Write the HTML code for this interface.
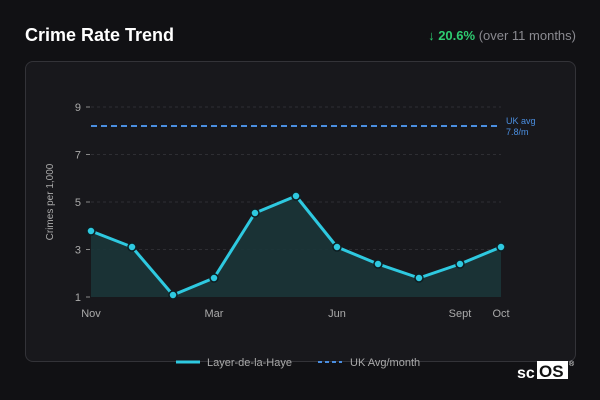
<!DOCTYPE html><html><head><style>
body{margin:0;width:600px;height:400px;background:#111114;font-family:"Liberation Sans",sans-serif;position:relative;overflow:hidden}
.t{position:absolute;left:25px;top:25px;color:#fff;font-weight:bold;font-size:18px}
.c{position:absolute;right:24px;top:28px;font-size:13px;color:#8a8a90}
.c b{color:#2ecc71}
.card{position:absolute;left:25px;top:61px;width:549px;height:299px;border:1px solid #333338;border-radius:8px;background:#18181c}
</style></head><body>
<div class="t">Crime Rate Trend</div>
<div class="c"><b>↓ 20.6%</b> (over 11 months)</div>
<div class="card"></div>
<svg width="600" height="400" style="position:absolute;left:0;top:0" font-family="Liberation Sans,sans-serif">
<g stroke="#2e2e33" stroke-dasharray="3,3" stroke-width="1">
<line x1="91" x2="501" y1="107" y2="107"/><line x1="91" x2="501" y1="154.5" y2="154.5"/><line x1="91" x2="501" y1="202" y2="202"/><line x1="91" x2="501" y1="249.5" y2="249.5"/></g>
<g stroke="#888" stroke-width="1"><line x1="86" x2="90" y1="107" y2="107"/><line x1="86" x2="90" y1="154.5" y2="154.5"/><line x1="86" x2="90" y1="202" y2="202"/><line x1="86" x2="90" y1="249.5" y2="249.5"/><line x1="86" x2="90" y1="297" y2="297"/></g>
<g fill="#aaa" font-size="11" text-anchor="end"><text x="81" y="111">9</text><text x="81" y="158.5">7</text><text x="81" y="206">5</text><text x="81" y="253.5">3</text><text x="81" y="301">1</text></g>
<text transform="translate(53,202) rotate(-90)" fill="#aaa" font-size="10" text-anchor="middle">Crimes per 1,000</text>
<g fill="#aaa" font-size="11" text-anchor="middle"><text x="91" y="317">Nov</text><text x="214" y="317">Mar</text><text x="337" y="317">Jun</text><text x="460" y="317">Sept</text><text x="501" y="317">Oct</text></g>
<polygon fill="#1b3539" opacity="0.9" points="91,297 91,231 132,247 173,295 214,278 255,213 296,196 337,247 378,264 419,278 460,264 501,247 501,297"/>
<line x1="91" x2="501" y1="126" y2="126" stroke="#4a8ee0" stroke-width="2" stroke-dasharray="6,4"/>
<text x="506" y="124" fill="#4a8ee0" font-size="9">UK avg</text><text x="506" y="135" fill="#4a8ee0" font-size="9">7.8/m</text>
<polyline fill="none" stroke="#2ec9e0" stroke-width="3" stroke-linejoin="round" points="91,231 132,247 173,295 214,278 255,213 296,196 337,247 378,264 419,278 460,264 501,247"/>
<g fill="#2ec9e0" stroke="#0e1e22" stroke-width="1.5"><circle cx="91" cy="231" r="4"/><circle cx="132" cy="247" r="4"/><circle cx="173" cy="295" r="4"/><circle cx="214" cy="278" r="4"/><circle cx="255" cy="213" r="4"/><circle cx="296" cy="196" r="4"/><circle cx="337" cy="247" r="4"/><circle cx="378" cy="264" r="4"/><circle cx="419" cy="278" r="4"/><circle cx="460" cy="264" r="4"/><circle cx="501" cy="247" r="4"/></g>
<line x1="176" x2="200" y1="362" y2="362" stroke="#2ec9e0" stroke-width="3"/>
<text x="207" y="366" fill="#aaa" font-size="11">Layer-de-la-Haye</text>
<line x1="318" x2="342" y1="362" y2="362" stroke="#4a8ee0" stroke-width="2" stroke-dasharray="4,3"/>
<text x="350" y="366" fill="#aaa" font-size="11">UK Avg/month</text>
<text x="517" y="378" fill="#fff" font-size="16" font-weight="bold">sc</text>
<rect x="537" y="361" width="31" height="18" fill="#fff"/>
<text x="539" y="377" fill="#111" font-size="17" font-weight="bold">OS</text>
<text x="569" y="366" fill="#fff" font-size="7">®</text>
</svg>
</body></html>
